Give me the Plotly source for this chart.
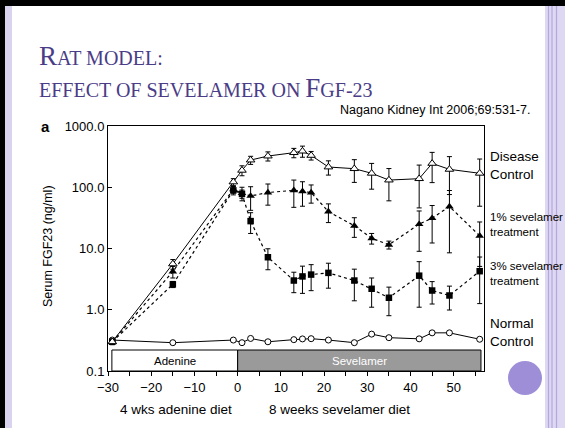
import plotly.graph_objects as go

# ---------------- data ----------------
days = [-29, -15, -1, 1, 3, 7, 13, 15, 17, 21, 27, 31, 35, 42, 45, 49, 56]

disease_control = [0.3, 5.6, 122, 189, 278, 323, 367, 389, 331, 214, 201, 169, 131, 138, 245, 196, 169]
disease_control_err = [0.03, 1.0, 16, 35, 42, 55, 64, 80, 53, 56, 81, 76, 71, 92, 126, 120, 120]

sev1 = [0.3, 4.2, 92, 80, 72, 82, 89, 86, 82, 40, 23.5, 14.7, 11.5, 25, 31.3, 48.5, 16.1]
sev1_err = [0.03, 0.9, 12, 20, 30, 31, 42, 37, 27, 13.5, 8.3, 2.9, 1.7, 16, 19, 40, 11]

sev3 = [0.3, 2.6, 89, 78, 28, 7.2, 3.0, 3.5, 3.75, 4.0, 3.0, 2.2, 1.57, 3.6, 2.06, 1.71, 4.26]
sev3_err = [0.03, 0.3, 14, 12, 10.4, 2.7, 1.1, 1.65, 1.7, 1.75, 1.6, 1.1, 0.77, 2.5, 0.82, 0.72, 3.0]

normal_control = [0.32, 0.29, 0.32, 0.29, 0.34, 0.30, 0.325, 0.334, 0.337, 0.32, 0.29, 0.40, 0.35, 0.335, 0.42, 0.42, 0.33]

y_tick_vals = [0.1, 1, 10, 100, 1000]
y_tick_text = ["0.1", "1.0", "10.0", "100.0", "1000.0"]
x_tick_vals = [-30, -20, -10, 0, 10, 20, 30, 40, 50]

adenine_period = [-29.1, 0]
sevelamer_period = [0, 56.3]

series_labels = [("Disease<br>Control", 165, 13.5),
                 ("1% sevelamer<br>treatment", 224, 11.5),
                 ("3% sevelamer<br>treatment", 273, 11.5),
                 ("Normal<br>Control", 332, 13.5)]

# ---------------- layout geometry ----------------
WIDTH, HEIGHT = 565, 428
L, R, T, B = 108, 81, 126, 57
PW = WIDTH - L - R
PH = HEIGHT - T - B


def xp(px):
    return (px - L) / PW


def yp(py):
    return (HEIGHT - B - py) / PH


FONT = "Liberation Sans"
TITLE_COLOR = "#4A3C86"

fig = go.Figure()

err_style = dict(type="data", color="black", thickness=1, width=2.5, visible=True)

fig.add_trace(go.Scatter(
    x=days, y=normal_control, mode="lines+markers",
    line=dict(color="black", width=1),
    marker=dict(symbol="circle", size=6, color="white", line=dict(color="black", width=1)),
    showlegend=False))

fig.add_trace(go.Scatter(
    x=days, y=sev3, mode="lines+markers",
    line=dict(color="black", width=1.2, dash="dot"),
    marker=dict(symbol="square", size=6.5, color="black"),
    error_y=dict(array=sev3_err, **err_style),
    showlegend=False))

fig.add_trace(go.Scatter(
    x=days, y=sev1, mode="lines+markers",
    line=dict(color="black", width=1.2, dash="dot"),
    marker=dict(symbol="triangle-up", size=7.5, color="black"),
    error_y=dict(array=sev1_err, **err_style),
    showlegend=False))

fig.add_trace(go.Scatter(
    x=days, y=disease_control, mode="lines+markers",
    line=dict(color="black", width=1),
    marker=dict(symbol="triangle-up", size=7.5, color="white", line=dict(color="black", width=1)),
    error_y=dict(array=disease_control_err, **err_style),
    showlegend=False))

shapes = []
# slide decoration
shapes.append(dict(type="rect", xref="paper", yref="paper", x0=xp(0), x1=xp(565), y0=yp(0), y1=yp(6),
                   fillcolor="black", line=dict(width=0), layer="below"))
shapes.append(dict(type="rect", xref="paper", yref="paper", x0=xp(0), x1=xp(5), y0=yp(0), y1=yp(428),
                   fillcolor="black", line=dict(width=0), layer="below"))
shapes.append(dict(type="rect", xref="paper", yref="paper", x0=xp(5), x1=xp(12), y0=yp(6), y1=yp(428),
                   fillcolor="#DAD3F0", line=dict(width=0), layer="below"))
shapes.append(dict(type="rect", xref="paper", yref="paper", x0=xp(545), x1=xp(565), y0=yp(6), y1=yp(428),
                   fillcolor="#DED8F2", line=dict(width=0), layer="below"))
for lx in (548.5, 552, 556.5):
    shapes.append(dict(type="line", xref="paper", yref="paper", x0=xp(lx), x1=xp(lx), y0=yp(6), y1=yp(428),
                       line=dict(color="#B4A8DC", width=1.2), layer="below"))
# purple dot
shapes.append(dict(type="circle", xref="paper", yref="paper", x0=xp(508), x1=xp(542), y0=yp(361), y1=yp(395),
                   fillcolor="#9E8ED8", line=dict(width=0)))
# diet period bars
BAR_TOP = 350
BAR_BOT = HEIGHT - B
shapes.append(dict(type="rect", xref="x", yref="paper", x0=adenine_period[0], x1=adenine_period[1],
                   y0=yp(BAR_BOT), y1=yp(BAR_TOP), fillcolor="white", line=dict(color="black", width=1)))
shapes.append(dict(type="rect", xref="x", yref="paper", x0=sevelamer_period[0], x1=sevelamer_period[1],
                   y0=yp(BAR_BOT), y1=yp(BAR_TOP), fillcolor="#9A9A9A", line=dict(color="black", width=1)))


def ann(x, y, text, size, color="black", family=FONT, xanchor="center", xref="paper", **kw):
    d = dict(x=x, y=y, xref=xref, yref="paper", text=text, showarrow=False,
             xanchor=xanchor, yanchor="middle", font=dict(family=family, size=size, color=color))
    d.update(kw)
    return d


annotations = []
mid_bar = yp((BAR_TOP + BAR_BOT) / 2)
annotations.append(ann(sum(adenine_period) / 2, mid_bar, "Adenine", 11.5, xref="x"))
annotations.append(ann(sum(sevelamer_period) / 2, mid_bar, "Sevelamer", 11.5, color="white", xref="x"))

for txt, cy, fs in series_labels:
    annotations.append(ann(xp(488), yp(cy), txt, fs, xanchor="left", align="left"))

annotations.append(ann(xp(176), yp(409), "4 wks adenine diet", 13.5))
annotations.append(ann(xp(339), yp(409), "8 weeks sevelamer diet", 13.5))
annotations.append(ann(xp(48), yp(246), "Serum FGF23 (ng/ml)", 12.5, textangle=-90))
annotations.append(ann(xp(45), yp(126), "<b>a</b>", 15))
annotations.append(ann(xp(532), yp(110), "Nagano Kidney Int 2006;69:531-7.", 12.5, xanchor="right"))
annotations.append(ann(xp(37), yp(56), '<span style="font-size:27px">R</span>AT MODEL:', 20,
                       color=TITLE_COLOR, family="Liberation Serif", xanchor="left"))
annotations.append(ann(xp(37), yp(88), 'EFFECT OF SEVELAMER ON <span style="font-size:27px">F</span>GF-23', 20,
                       color=TITLE_COLOR, family="Liberation Serif", xanchor="left"))

fig.update_layout(
    width=WIDTH, height=HEIGHT,
    margin=dict(l=L, r=R, t=T, b=B, pad=0),
    paper_bgcolor="white", plot_bgcolor="white",
    shapes=shapes, annotations=annotations,
    font=dict(family=FONT, color="black"),
)

fig.update_xaxes(range=[-30, 57], showgrid=False, zeroline=False, showline=True, mirror=True,
                 linecolor="black", linewidth=1, tickvals=x_tick_vals, ticks="outside", ticklen=4,
                 tickcolor="black", tickfont=dict(family=FONT, size=13, color="black"),
                 minor=dict(dtick=5, tick0=-30, ticks="outside", ticklen=4, tickcolor="black"))
fig.update_yaxes(type="log", range=[-1, 3], showgrid=False, zeroline=False, showline=True, mirror=True,
                 linecolor="black", linewidth=1, tickvals=y_tick_vals, ticktext=y_tick_text,
                 ticks="inside", ticklen=4, tickcolor="black",
                 tickfont=dict(family=FONT, size=13, color="black"))

fig.write_html("out.html", config={"displayModeBar": False},
               post_script="document.body.style.margin='0px';document.body.style.overflow='hidden';")
